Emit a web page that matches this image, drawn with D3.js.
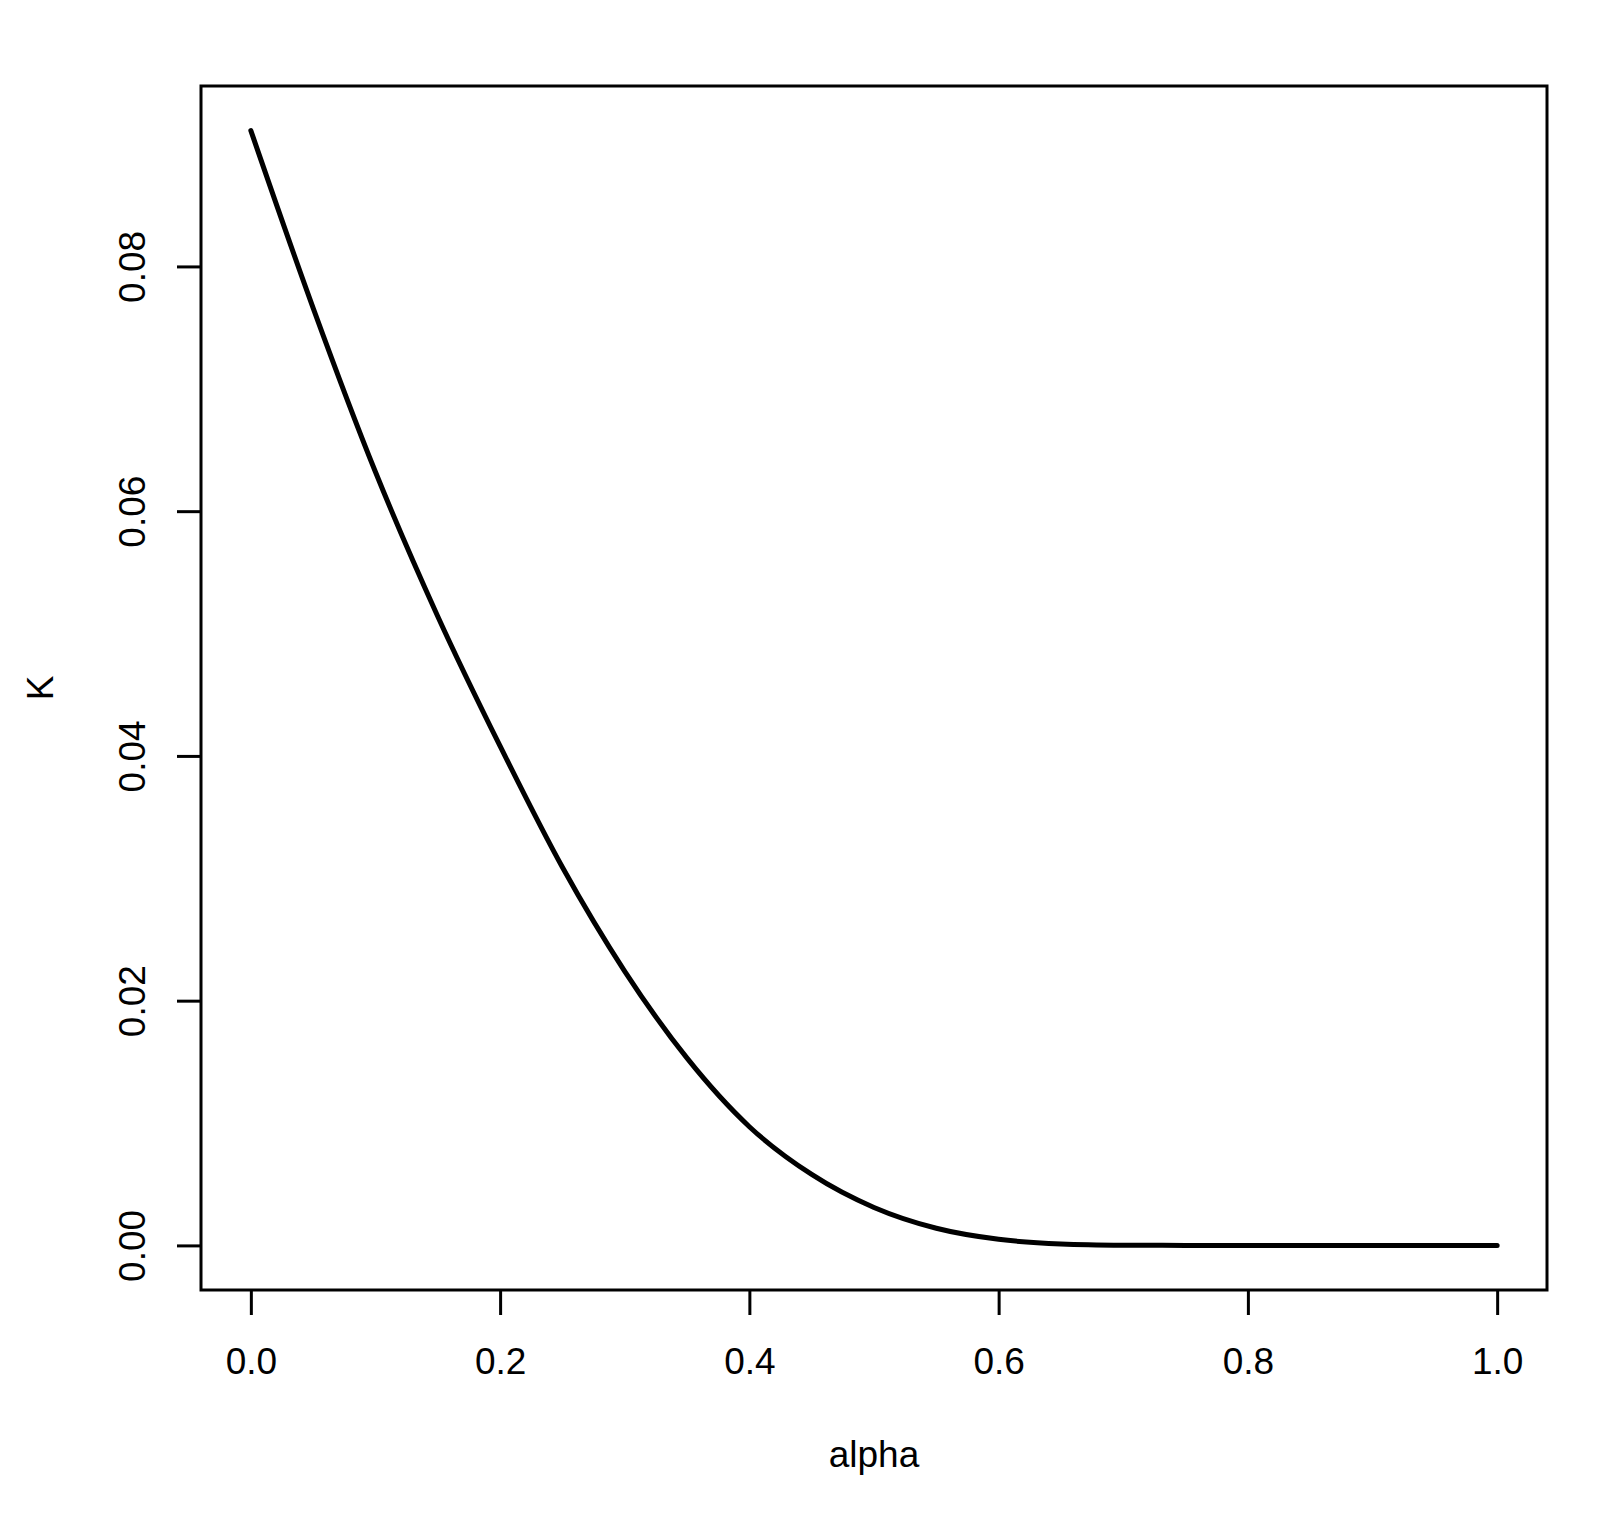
<!DOCTYPE html>
<html>
<head>
<meta charset="utf-8">
<script src="https://cdn.jsdelivr.net/npm/d3@7"></script>
<style>
  html, body { margin: 0; padding: 0; background: #ffffff; }
  svg { display: block; }
  text { font-family: "Liberation Sans", Arial, Helvetica, sans-serif; fill: #000; }
</style>
</head>
<body>
<svg id="chart" width="1607" height="1522"></svg>
<script>
// ---- data ----
const alpha = [0.00, 0.05, 0.10, 0.15, 0.20, 0.25, 0.30, 0.35, 0.40, 0.45, 0.50,
               0.55, 0.60, 0.65, 0.70, 0.75, 0.80, 0.85, 0.90, 0.95, 1.00];
const K     = [0.0911, 0.0766, 0.0632, 0.0514, 0.0408, 0.0309, 0.0224, 0.0153, 0.0097, 0.0058, 0.0031,
               0.0014, 0.0005, 0.00012, 0.00002, 0, 0, 0, 0, 0, 0];
const xTicks = [0, 0.2, 0.4, 0.6, 0.8, 1.0];
const xTickLabels = ["0.0", "0.2", "0.4", "0.6", "0.8", "1.0"];
const yTicks = [0, 0.02, 0.04, 0.06, 0.08];
const yTickLabels = ["0.00", "0.02", "0.04", "0.06", "0.08"];
const xLabel = "alpha";
const yLabel = "K";

// ---- layout ----
const W = 1607, H = 1522;
const plot = { left: 201, right: 1547, top: 86, bottom: 1290 };
const fontSize = 37;

const svg = d3.select("#chart");
svg.append("rect").attr("width", W).attr("height", H).attr("fill", "#fff");

const xMin = d3.min(alpha), xMax = d3.max(alpha);
const yMin = d3.min(K), yMax = d3.max(K);
const xPad = (xMax - xMin) * 0.04, yPad = (yMax - yMin) * 0.04;

const x = d3.scaleLinear().domain([xMin - xPad, xMax + xPad]).range([plot.left, plot.right]);
const y = d3.scaleLinear().domain([yMin - yPad, yMax + yPad]).range([plot.bottom, plot.top]);

// curve
const line = d3.line()
  .x((d, i) => x(alpha[i]))
  .y(d => y(d))
  .curve(d3.curveMonotoneX);

svg.append("path")
  .datum(K)
  .attr("d", line)
  .attr("fill", "none")
  .attr("stroke", "#000")
  .attr("stroke-width", 5)
  .attr("stroke-linecap", "round")
  .attr("stroke-linejoin", "round");

// x axis
const xAxis = d3.axisBottom(x)
  .tickValues(xTicks)
  .tickFormat((d, i) => xTickLabels[i])
  .tickSize(25)
  .tickPadding(32);
const gx = svg.append("g").attr("transform", `translate(0,${plot.bottom})`).call(xAxis);
gx.select(".domain").remove();
gx.selectAll(".tick line").attr("stroke", "#000").attr("stroke-width", 3);
gx.selectAll(".tick text")
  .attr("font-size", fontSize)
  .attr("font-family", "'Liberation Sans', Arial, sans-serif")
  .attr("fill", "#000")
  .attr("dy", null)
  .attr("y", 84);

// y axis
const yAxis = d3.axisLeft(y)
  .tickValues(yTicks)
  .tickFormat((d, i) => yTickLabels[i])
  .tickSize(24);
const gy = svg.append("g").attr("transform", `translate(${plot.left},0)`).call(yAxis);
gy.select(".domain").remove();
gy.selectAll(".tick line").attr("stroke", "#000").attr("stroke-width", 3);
gy.selectAll(".tick text")
  .attr("font-size", fontSize)
  .attr("font-family", "'Liberation Sans', Arial, sans-serif")
  .attr("fill", "#000")
  .attr("text-anchor", "middle")
  .attr("dy", null)
  .attr("x", 0)
  .attr("y", -56)
  .attr("transform", "rotate(-90)");

// box
svg.append("rect")
  .attr("x", plot.left).attr("y", plot.top)
  .attr("width", plot.right - plot.left).attr("height", plot.bottom - plot.top)
  .attr("fill", "none").attr("stroke", "#000").attr("stroke-width", 3);

// axis titles
svg.append("text")
  .attr("x", (plot.left + plot.right) / 2)
  .attr("y", 1467)
  .attr("text-anchor", "middle")
  .attr("font-size", fontSize)
  .text(xLabel);

svg.append("text")
  .attr("transform", `translate(53,${(plot.top + plot.bottom) / 2}) rotate(-90)`)
  .attr("text-anchor", "middle")
  .attr("font-size", fontSize)
  .text(yLabel);
</script>
</body>
</html>
